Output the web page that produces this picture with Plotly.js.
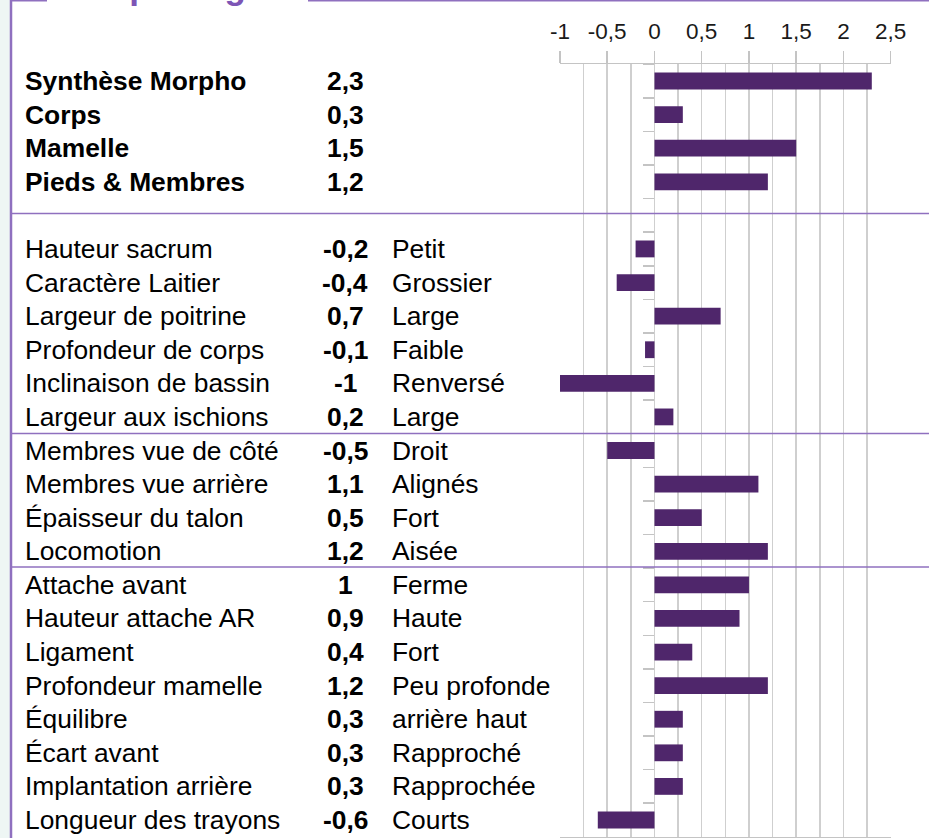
<!DOCTYPE html>
<html>
<head>
<meta charset="utf-8">
<script src="https://cdn.plot.ly/plotly-3.0.1.min.js"></script>
<style>
html,body{margin:0;padding:0;background:#fff;}
#chart{width:929px;height:838px;}
</style>
</head>
<body>
<div id="chart"></div>
<script>
// Synthesis block (bold)
const topLabels = ["Synthèse Morpho", "Corps", "Mamelle", "Pieds & Membres"];
const topValues = [2.3, 0.3, 1.5, 1.2];

// Detailed traits
const detailLabels = [
  "Hauteur sacrum", "Caractère Laitier", "Largeur de poitrine", "Profondeur de corps",
  "Inclinaison de bassin", "Largeur aux ischions",
  "Membres vue de côté", "Membres vue arrière", "Épaisseur du talon", "Locomotion",
  "Attache avant", "Hauteur attache AR", "Ligament", "Profondeur mamelle",
  "Équilibre", "Écart avant", "Implantation arrière", "Longueur des trayons"
];
const detailValues = [-0.2, -0.4, 0.7, -0.1, -1, 0.2, -0.5, 1.1, 0.5, 1.2, 1, 0.9, 0.4, 1.2, 0.3, 0.3, 0.3, -0.6];
const detailDescriptions = [
  "Petit", "Grossier", "Large", "Faible", "Renversé", "Large",
  "Droit", "Alignés", "Fort", "Aisée",
  "Ferme", "Haute", "Fort", "Peu profonde", "arrière haut", "Rapproché", "Rapprochée", "Courts"
];
const xTickVals = [-1, -0.5, 0, 0.5, 1, 1.5, 2, 2.5];
const titleText = "Morphologie";

const GAP = " ";
const yCats = [...topLabels, GAP, ...detailLabels];
const xVals = [...topValues, null, ...detailValues];

const W = 929, H = 838;
const FONT = "Liberation Sans, Arial, Helvetica, sans-serif";
const PURPLE_LINE = "#8f70bf";
const BAR = "#4f266b";
const GRID = "#cfcfcf";
const TXT = 26.4;
const fmt = v => String(v).replace(".", ",");
const px = v => v / W;

const annotations = [];
topLabels.forEach((l, i) => {
  annotations.push({xref: "paper", yref: "y", x: px(23), y: l, xanchor: "left", yanchor: "middle",
    text: "<b>" + l + "</b>", showarrow: false, font: {family: FONT, size: TXT, color: "#000"}});
  annotations.push({xref: "paper", yref: "y", x: px(345), y: l, xanchor: "center", yanchor: "middle",
    text: "<b>" + fmt(topValues[i]) + "</b>", showarrow: false, font: {family: FONT, size: TXT, color: "#000"}});
});
detailLabels.forEach((l, i) => {
  annotations.push({xref: "paper", yref: "y", x: px(23), y: l, xanchor: "left", yanchor: "middle",
    text: l, showarrow: false, font: {family: FONT, size: TXT, color: "#000"}});
  annotations.push({xref: "paper", yref: "y", x: px(345), y: l, xanchor: "center", yanchor: "middle",
    text: "<b>" + fmt(detailValues[i]) + "</b>", showarrow: false, font: {family: FONT, size: TXT, color: "#000"}});
  annotations.push({xref: "paper", yref: "y", x: px(390), y: l, xanchor: "left", yanchor: "middle",
    text: detailDescriptions[i], showarrow: false, font: {family: FONT, size: TXT, color: "#000"}});
});
// clipped fieldset title (only descenders visible, as in the reference)
annotations.push({xref: "paper", yref: "paper", x: px(63), y: (837 + 13.5) / 773, xanchor: "left", yanchor: "middle",
  text: "<b>" + titleText + "</b>", showarrow: false, font: {family: FONT, size: 35, color: "#7d55b5"}});

const pyPaper = p => (837 - p) / 773;
const shapes = [
  {type: "rect", xref: "paper", yref: "paper", x0: 0, x1: px(10), y0: -0.01, y1: 1.1, fillcolor: "#eef6f4", line: {width: 0}, layer: "below"},
  {type: "line", xref: "paper", yref: "paper", x0: px(11), x1: px(11), y0: -0.01, y1: 1.1, line: {color: PURPLE_LINE, width: 2.5}},
  {type: "line", xref: "paper", yref: "paper", x0: px(10), x1: px(47), y0: pyPaper(0.5), y1: pyPaper(0.5), line: {color: PURPLE_LINE, width: 2}},
  {type: "line", xref: "paper", yref: "paper", x0: px(308), x1: 1, y0: pyPaper(0.5), y1: pyPaper(0.5), line: {color: PURPLE_LINE, width: 2}},
  {type: "line", xref: "paper", yref: "paper", x0: px(11), x1: 1, y0: pyPaper(213.5), y1: pyPaper(213.5), line: {color: PURPLE_LINE, width: 1.5}},
  {type: "line", xref: "paper", yref: "paper", x0: px(11), x1: 1, y0: pyPaper(433.5), y1: pyPaper(433.5), line: {color: PURPLE_LINE, width: 1.5}},
  {type: "line", xref: "paper", yref: "paper", x0: px(11), x1: 1, y0: pyPaper(567), y1: pyPaper(567), line: {color: PURPLE_LINE, width: 1.5}}
];

const trace = {
  type: "bar", orientation: "h", y: yCats, x: xVals,
  marker: {color: BAR, line: {width: 0}}, hoverinfo: "skip"
};

const layout = {
  width: W, height: H,
  margin: {l: 0, r: 0, t: 64, b: 1, pad: 0, autoexpand: false},
  paper_bgcolor: "#ffffff", plot_bgcolor: "#ffffff",
  separators: ", ",
  bargap: 0.5,
  showlegend: false,
  font: {family: FONT, color: "#000"},
  xaxis: {
    domain: [560 / W, 890.7 / W],
    range: [-1, 2.5], side: "top",
    tickmode: "array", tickvals: xTickVals, ticktext: xTickVals.map(fmt),
    ticks: "outside", ticklen: 12, tickwidth: 1.5, tickcolor: "#c4c4c4",
    ticklabelstandoff: 3,
    showline: true, linecolor: "#c4c4c4", linewidth: 1.5, mirror: true,
    showgrid: true, gridcolor: GRID, gridwidth: 1.5, zeroline: false,
    minor: {dtick: 0.25, tick0: 0, showgrid: true, gridcolor: GRID, gridwidth: 1.5, ticks: ""},
    tickfont: {family: FONT, size: 22.5, color: "#1a1a1a"},
    fixedrange: true
  },
  yaxis: {
    type: "category", categoryorder: "array", categoryarray: yCats,
    autorange: "reversed",
    anchor: "free", position: 654.3 / W,
    showticklabels: false, tickson: "boundaries",
    ticks: "outside", ticklen: 11, tickwidth: 1.5, tickcolor: "#c4c4c4",
    showgrid: false, showline: false, zeroline: false,
    fixedrange: true
  },
  shapes: shapes,
  annotations: annotations
};

Plotly.newPlot("chart", [trace], layout, {displayModeBar: false, staticPlot: true});
</script>
</body>
</html>
